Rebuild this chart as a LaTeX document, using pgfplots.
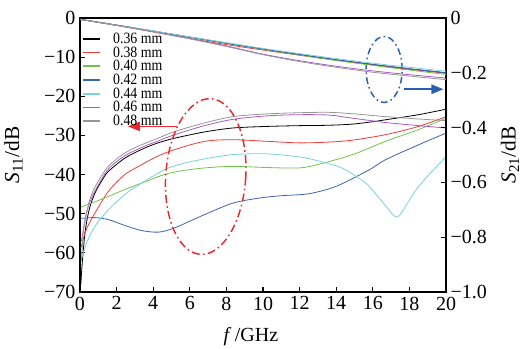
\documentclass[border=0pt]{standalone}
\usepackage{fontspec}
\setmainfont{Liberation Serif}
\newfontfamily\tnr{Liberation Serif}
\newfontfamily\legfont[FakeStretch=0.88]{Liberation Serif}
\usepackage{pgfplots}
\pgfplotsset{compat=1.18}
\usetikzlibrary{arrows.meta}
\definecolor{cRed}{RGB}{238,60,60}
\definecolor{cGreen}{RGB}{115,195,75}
\definecolor{cBlue}{RGB}{60,100,180}
\definecolor{cCyan}{RGB}{120,210,225}
\definecolor{cPurple}{RGB}{170,90,190}
\definecolor{cGray}{RGB}{150,150,150}
\definecolor{eRed}{RGB}{235,40,45}
\definecolor{eBlue}{RGB}{40,95,180}
\newcommand{\lf}{\legfont\fontsize{11.8}{11.8}\selectfont}
\begin{document}
\begin{tikzpicture}
\path[use as bounding box] (-60pt,-42.75pt) rectangle (336pt,219pt);
\pgfplotsset{
  common/.style={
    scale only axis, width=274.5pt, height=205.5pt,
    xmin=0, xmax=20,
    tick align=inside, major tick length=3.5pt,
    tick style={line width=0.8pt, black},
    axis line style={line width=0.9pt},
    tick label style={font=\tnr\fontsize{15}{18}\selectfont},
    /pgf/number format/assume math mode=true,
  }
}
\begin{axis}[common,
  ymin=-70, ymax=0,
  xtick={0,2,4,6,8,10,12,14,16,18,20},
  xticklabels={0,2,4,6,8,10,12,14,16,18,20},
  ytick={-70,-60,-50,-40,-30,-20,-10,0},
  yticklabels={−70,−60,−50,−40,−30,−20,−10,0},
  xtick pos=bottom, ytick pos=left,
  every axis x label/.style={at={(axis description cs:0.467,0)}, yshift=-37pt, anchor=base, font=\tnr\fontsize{15}{18}\selectfont},
  every axis y label/.style={at={(axis description cs:-0.182,0.5)}, rotate=90, anchor=center, font=\tnr\fontsize{16}{18}\selectfont},
  xlabel={\textit{f}\,/GHz},
  ylabel={\textit{S}\textsubscript{11}/dB},
  legend cell align=left,
  legend style={draw=none, fill=none, at={(axis description cs:0.006,0.95)}, anchor=north west,
    font=\lf, inner sep=0pt, row sep=0pt,
    nodes={font=\lf, inner sep=0.5pt, text height=8pt, text depth=1.3pt},
    /tikz/every odd column/.append style={column sep=8.5pt}},
  legend image code/.code={\draw[#1, line width=1.3pt] (0pt,0pt) -- (12.75pt,0pt);},
  every axis plot/.append style={line width=0.6pt},
]
% 0.36 mm
\addplot[black, smooth] coordinates {(0.05,-68) (0.1,-64) (0.27,-55) (0.5,-49) (0.82,-44.7) (1.2,-41.5) (1.55,-39.2) (2.45,-35.8) (3.36,-33.6) (4.2,-32) (5.18,-30.7) (6.82,-29.1) (8.35,-28.1) (10.2,-27.7) (12,-27.5) (13.6,-27.4) (14.9,-27.1) (16,-26.5) (16.7,-26) (18.5,-24.7) (20,-23.3)};
\addlegendentry{\lf 0.36 mm}
% 0.38 mm
\addplot[cRed, smooth] coordinates {(0.05,-58.8) (0.27,-55) (0.5,-52.5) (0.82,-49.8) (1.55,-44.3) (2.45,-40) (3.36,-37.5) (4.2,-35.4) (5.18,-33.6) (6.82,-31.5) (8.35,-31.1) (10.2,-31.5) (12,-31.9) (13.6,-31.7) (14.9,-31.2) (16.7,-29.8) (18.5,-27.7) (20,-25.2)};
\addlegendentry{\lf 0.38 mm}
% 0.40 mm
\addplot[cGreen, smooth] coordinates {(0.05,-48.3) (0.8,-47) (1.55,-45.6) (2.45,-43.8) (3.36,-42.2) (4.6,-40) (5.6,-39) (6.82,-38.3) (8.35,-37.9) (10.2,-38.2) (12,-38.3) (13.1,-37.3) (14.9,-34.9) (16.7,-31.5) (18.5,-28.5) (20,-25.6)};
\addlegendentry{\lf 0.40 mm}
% 0.42 mm
\addplot[cBlue, smooth] coordinates {(0.05,-51.2) (0.82,-51) (1.55,-51.5) (2.45,-53) (3.36,-54.3) (4.3,-54.7) (5.18,-53.6) (6.82,-50.2) (8.35,-47.3) (9.8,-46) (11,-45.4) (12.5,-44.9) (14,-43) (15.8,-38.8) (16.7,-36.2) (18.5,-32.4) (20,-29.4)};
\addlegendentry{\lf 0.42 mm}
% 0.44 mm
\addplot[cCyan, smooth] coordinates {(0.08,-61.5) (0.4,-57) (0.82,-53.2) (1.55,-49) (2.45,-45.1) (3.36,-42.2) (4.6,-38.8) (5.6,-37.2) (6.82,-36) (8.35,-34.9) (10.2,-34.7) (12,-35.5) (13.1,-36.6) (14.3,-38.3) (15.1,-40.5) (15.7,-42.5) (16.2,-45.2) (16.8,-48.5) (17.1,-50.3) (17.3,-50.8) (17.5,-50.2) (17.8,-48) (18.3,-44.3) (18.9,-40.9) (19.5,-37.9) (20,-35.4)};
\addlegendentry{\lf 0.44 mm}
% 0.46 mm
\addplot[cPurple, smooth] coordinates {(0.08,-57) (0.3,-51) (0.5,-47.5) (0.84,-44) (1.55,-38.6) (2.45,-35.2) (3.36,-33.1) (4.27,-31.4) (5.18,-29.8) (6.8,-27.5) (8.35,-25.9) (10.2,-25) (12,-24.7) (13.6,-24.8) (14.9,-25.6) (16.7,-26.7) (18.5,-27.5) (20,-28.1)};
\addlegendentry{\lf 0.46 mm}
% 0.48 mm
\addplot[cGray, smooth] coordinates {(0.08,-62) (0.2,-54) (0.5,-47) (0.84,-43) (1.55,-37.9) (2.45,-34.5) (3.36,-32.4) (4.27,-30.7) (5.18,-29) (6.8,-26.8) (8.35,-25.2) (10.2,-24.5) (12,-24.2) (13.6,-24.1) (15,-24.5) (16.7,-25.2) (18.5,-25.8) (20,-26.2)};
\addlegendentry{\lf 0.48 mm}
% annotations
\draw[eRed, line width=1.1pt, dash pattern=on 6pt off 2.5pt on 1.2pt off 2.5pt, rotate around={-4:(axis cs:6.87,-40.5)}] (axis cs:6.87,-40.5) ellipse [x radius=30pt, y radius=58.5pt];
\draw[eRed, line width=1.3pt, -{Triangle[length=9pt,width=7pt]}] (axis cs:5.3,-27.7) -- (axis cs:2.62,-27.7);
\draw[eBlue, line width=1.1pt, dash pattern=on 5pt off 2.5pt on 1.2pt off 2.5pt] (axis cs:16.62,-13.16) ellipse [x radius=13.5pt, y radius=24.75pt];
\draw[eBlue, line width=1.3pt, -{Triangle[length=9pt,width=7pt]}] (axis cs:17.68,-18.2) -- (axis cs:19.86,-18.2);
\end{axis}
\begin{axis}[common,
  ymin=-1, ymax=0,
  axis x line=none, axis y line*=right,
  ytick={-1,-0.8,-0.6,-0.4,-0.2,0},
  yticklabels={−1.0,−0.8,−0.6,−0.4,−0.2,0},
  every axis y label/.style={at={(axis description cs:1.175,0.5)}, rotate=90, anchor=center, font=\tnr\fontsize{16}{18}\selectfont},
  ylabel={\textit{S}\textsubscript{21}/dB},
  every axis plot/.append style={line width=0.6pt},
]
\addplot[black, smooth] coordinates {(0,-0.005) (2,-0.026) (4,-0.048) (6,-0.07) (8,-0.092) (10,-0.113) (12,-0.134) (14,-0.153) (16,-0.17) (18,-0.186) (20,-0.2)};
\addplot[cRed, smooth] coordinates {(0,-0.005) (2,-0.027) (4,-0.051) (6,-0.075) (8,-0.097) (10,-0.117) (12,-0.136) (14,-0.154) (16,-0.171) (18,-0.187) (20,-0.202)};
\addplot[cGreen, smooth] coordinates {(0,-0.005) (2,-0.026) (4,-0.048) (6,-0.07) (8,-0.092) (10,-0.114) (12,-0.135) (14,-0.155) (16,-0.173) (18,-0.19) (20,-0.206)};
\addplot[cBlue, smooth] coordinates {(0,-0.005) (2,-0.026) (4,-0.048) (6,-0.07) (8,-0.092) (10,-0.113) (12,-0.133) (14,-0.152) (16,-0.169) (18,-0.185) (20,-0.2)};
\addplot[cCyan, smooth] coordinates {(0,-0.005) (2,-0.026) (4,-0.047) (6,-0.069) (8,-0.09) (10,-0.111) (12,-0.13) (14,-0.148) (16,-0.165) (18,-0.18) (20,-0.194)};
\addplot[cPurple, smooth] coordinates {(0,-0.005) (2,-0.027) (4,-0.05) (6,-0.075) (8,-0.102) (10,-0.132) (12,-0.156) (14,-0.176) (16,-0.193) (18,-0.207) (20,-0.219)};
\addplot[cGray, smooth] coordinates {(0,-0.005) (2,-0.027) (4,-0.05) (6,-0.076) (8,-0.104) (10,-0.134) (12,-0.159) (14,-0.18) (16,-0.198) (18,-0.212) (20,-0.225)};
\end{axis}
\end{tikzpicture}
\end{document}
